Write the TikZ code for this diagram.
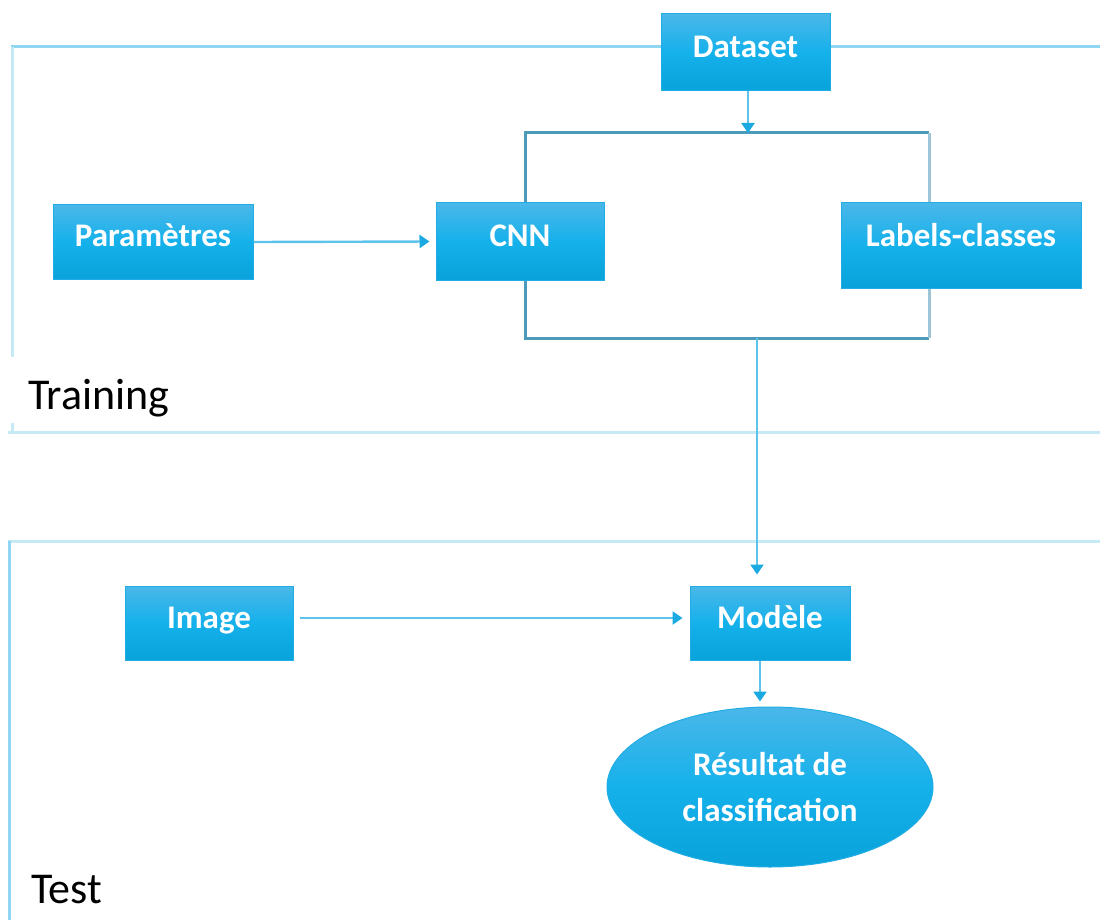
\documentclass[tikz,border=0pt]{standalone}
\usepackage{fontspec}
\setmainfont{Carlito}
\usetikzlibrary{arrows.meta,shapes.geometric}

\definecolor{boxtop}{HTML}{4AB7E9}
\definecolor{boxmid}{HTML}{15B1EB}
\definecolor{boxbot}{HTML}{09A2DA}
\definecolor{boxedge}{HTML}{22ACE4}
\definecolor{framedark}{HTML}{8ED6F2}
\definecolor{framelight}{HTML}{C6E9F6}
\definecolor{bracket}{HTML}{4A9AB8}
\definecolor{bracketlight}{HTML}{9CC6D6}
\definecolor{linkline}{HTML}{5EC3EA}
\definecolor{linktip}{HTML}{1BA9E1}

\tikzset{
  stagebox/.style={rectangle, inner sep=0pt, draw=boxedge, line width=1pt,
    top color=boxtop, bottom color=boxbot, middle color=boxmid,
    text=white, font=\fontsize{33}{40}\selectfont\bfseries,
    text height=10pt, text depth=0pt},
  resultbox/.style={ellipse, inner sep=0pt, draw=boxedge, line width=1pt,
    top color=boxtop, bottom color=boxbot, middle color=boxmid,
    text=white, align=center, font=\fontsize{33}{46}\selectfont\bfseries},
  link/.style={draw=linkline, line width=2.4pt,
    -{Triangle[width=13pt,length=10pt,color=linktip]}},
  phase/.style={anchor=base west, inner sep=0pt, text=black,
    font=\fontsize{44}{50}\selectfont},
  frameA/.style={draw=framedark, line width=3pt},
  frameB/.style={draw=framelight, line width=3pt},
}

\begin{document}
\begin{tikzpicture}[x=1pt,y=-1pt]
\useasboundingbox (0,0) rectangle (1100,920);

% phase frames
\draw[frameA] (11,47) -- (1100,47);
\draw[frameB] (12,47) -- (12,357);
\draw[frameB] (12,423) -- (12,432);
\draw[frameB] (8,432) -- (1100,432);
\draw[frameB] (8,541) -- (1100,541);
\draw[frameA] (9,541) -- (9,920);

\node[phase] (train) at (28,409) {Training};
\node[phase] (test) at (31,903) {Test};

% bracket grouping CNN and labels
\coordinate (bTL) at (525,133);
\coordinate (bBR) at (929,338);
\coordinate (bOut) at (757,338);
\draw[bracket, line width=3pt] (bTL -| bBR) -- (bTL) -- (bTL |- bBR) -- (bBR);
\draw[bracketlight, line width=3pt] (bTL -| bBR) -- (bBR);

% training boxes
\node[stagebox, minimum width=169pt, minimum height=77pt] (data) at (745.5,52.5) {Dataset};
\node[stagebox, minimum width=200pt, minimum height=74pt] (param) at (153,242) {Paramètres};
\node[stagebox, minimum width=168pt, minimum height=77pt] (cnn) at (520,241.5) {CNN};
\node[stagebox, minimum width=240pt, minimum height=85pt, text height=1pt] (labels) at (961,245.5) {Labels-classes};

% test boxes
\node[stagebox, minimum width=168pt, minimum height=74pt] (img) at (209,623) {Image};
\node[stagebox, minimum width=160pt, minimum height=74pt] (modele) at (770,623) {Modèle};
\node[resultbox, minimum width=326pt, minimum height=160pt] (res) at (770,787) {Résultat de\\classification};

% connectors
\draw[link] ([xshift=2.5pt]data.south) -- ([xshift=2.5pt]data.south |- bTL);
\draw[link, shorten >=6pt] (param.east) -- (cnn.west);
\draw[link, shorten >=11pt] (bOut) -- (bOut |- modele.north);
\draw[link, shorten <=6pt, shorten >=7pt] ([yshift=5pt]img.east) -- ([yshift=5pt]modele.west);
\draw[link, shorten >=5pt] ([xshift=-10pt]modele.south) -- ([xshift=-10pt]modele.south |- res.north);
\end{tikzpicture}
\end{document}
